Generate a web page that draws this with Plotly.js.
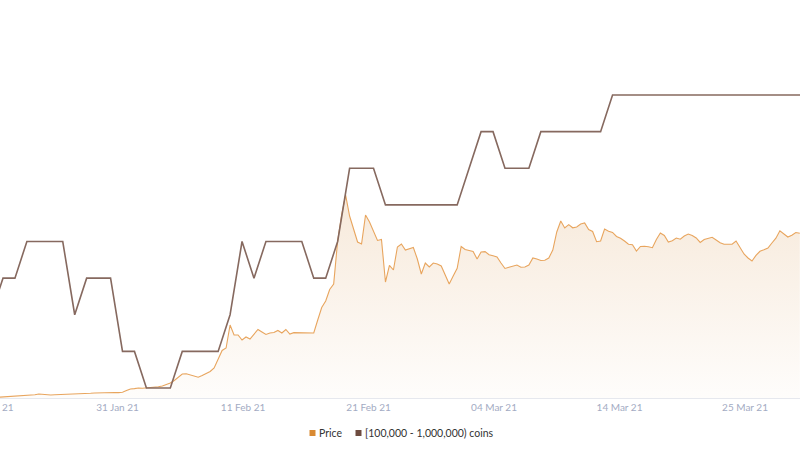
<!DOCTYPE html>
<html><head><meta charset="utf-8">
<script src="https://cdn.plot.ly/plotly-3.0.1.min.js"></script>
<style>html,body{margin:0;padding:0;background:#fff}#chart{width:800px;height:450px}</style>
</head><body><div id="chart"></div>
<script>
// ---- data ----
const seriesNames = ['Price', '[100,000 - 1,000,000) coins'];

// Price, sampled every 8 hours starting at priceStart (USD)
const priceStart = '2021-01-21T16:00:00Z';
const priceStepHours = 8;
const priceValues = [
  37.2, 37.5, 38.3, 39, 39, 39, 38.8, 39.8, 40.1, 40.8,
  42, 41.3, 40.5, 40.5, 40.8, 41, 41, 41, 41.1, 41.7,
  42.3, 42.6, 42.8, 43.1, 43.5, 43.8, 44.1, 44.4, 44.6, 44.3,
  44.1, 44.7, 47.3, 49.5, 50.1, 51, 50.6, 51, 51.5, 52.1,
  52.8, 54, 56.3, 58.5, 62.3, 66.8, 72, 72.3, 70.5, 69.8,
  67.2, 69.8, 72.8, 75.8, 81, 94.5, 107.3, 111, 145.5, 130.5,
  130.5, 123, 127.5, 124.5, 132, 138.8, 135, 131.3, 133.5, 134.3,
  137.3, 133.5, 138.8, 132, 134, 134, 133.5, 133.1, 133.1, 133.5,
  153, 171.8, 181.5, 198.8, 207, 271.5, 310.5, 340.5, 309, 291,
  270, 267, 310.5, 300, 287.3, 272.3, 273.8, 210, 235, 228,
  262.5, 267, 258, 259.5, 261.8, 244.5, 222, 238.5, 232.5, 238.5,
  237, 234, 220.5, 207, 219, 230.6, 263.3, 258.8, 257.3, 255.8,
  244.5, 255, 255.5, 250.8, 249.3, 247.5, 238.5, 230.3, 232.1, 234,
  235.5, 232.1, 232.5, 235.5, 246, 244.5, 242.3, 242.6, 246, 258,
  285, 301.5, 291, 296, 291.3, 292.5, 297, 298.5, 288.8, 285.8,
  270.5, 271.5, 289.5, 286.2, 284.3, 278.3, 275.6, 271.5, 266.6, 266,
  256.5, 263.3, 263.7, 262.8, 261.5, 273.8, 283.5, 279.8, 270, 272,
  276, 274.2, 279, 282, 279.8, 276, 269.3, 273.8, 276, 277.1,
  273, 269, 266.6, 266.7, 266.7, 271.5, 262.5, 252, 246, 241.5,
  249.8, 256.1, 258.3, 261, 268.5, 275.7, 286.8, 282.5, 277.5, 280.2,
  284.3, 283.1
];

// Number of holders in the band, daily from holderStart
const holderStart = '2021-01-21T00:00:00Z';
const holderValues = [
  22, 23, 23, 24, 24, 24, 24, 22, 23, 23, 23,
  21, 21, 20, 20, 20, 21, 21, 21, 21, 22, 24, 23, 24, 24, 24, 24, 23, 23, 24, 26, 26, 26, 25, 25, 25, 25, 25, 25,
  25, 26, 27, 27, 26, 26, 26, 27, 27, 27, 27, 27, 27,
  28, 28, 28, 28, 28, 28, 28, 28, 28, 28, 28, 28, 28, 28, 28, 28, 28
];

const xRange = ['2021-01-21 18:00', '2021-03-29 16:24'];
const tickDates = ['2021-01-31 14:00', '2021-02-11 02:00', '2021-02-21 14:00', '2021-03-04 02:00', '2021-03-14 14:00', '2021-03-25 02:00'];
const tickLabels = ['31 Jan 21', '11 Feb 21', '21 Feb 21', '04 Mar 21', '14 Mar 21', '25 Mar 21'];
const clippedTickLabel = '21 Jan 21';

// ---- build ----
function fmt(ms) { return new Date(ms).toISOString().slice(0, 16).replace('T', ' '); }
const p0 = Date.parse(priceStart);
const priceDates = priceValues.map((_, i) => fmt(p0 + i * priceStepHours * 3600e3));
const h0 = Date.parse(holderStart);
const holderDates = holderValues.map((_, i) => fmt(h0 + i * 24 * 3600e3));

const priceColor = '#e8a55e';
const holderColor = '#86695f';
const priceKey = '#d98a32';
const holderKey = '#6e4c40';
const font = 'Lato, "Open Sans", sans-serif';

const traces = [
  {
    x: priceDates, y: priceValues, type: 'scatter', mode: 'lines', name: seriesNames[0],
    line: {color: priceColor, width: 1.1},
    fill: 'tozeroy',
    fillgradient: {type: 'vertical', start: 36, stop: 345,
      colorscale: [[0, 'rgba(244,226,206,0.08)'], [1, 'rgba(244,226,206,0.75)']]},
    showlegend: false, hoverinfo: 'skip'
  },
  {
    x: holderDates, y: holderValues, type: 'scatter', mode: 'lines', name: seriesNames[1],
    yaxis: 'y2', line: {color: holderColor, width: 1.6},
    showlegend: false, hoverinfo: 'skip'
  }
];

const plotBottom = 398, plotH = 398;
const py = yp => -(yp - plotBottom) / plotH; // pixel -> paper y (below plot)

const layout = {
  width: 800, height: 450,
  margin: {l: 0, r: 0, t: 0, b: 52, pad: 0},
  paper_bgcolor: '#ffffff', plot_bgcolor: '#ffffff',
  showlegend: false,
  font: {family: font, size: 11, color: '#333'},
  xaxis: {
    type: 'date', range: xRange, tickmode: 'array', tickvals: tickDates, ticktext: tickLabels,
    showgrid: false, zeroline: false, showline: true, linecolor: '#e6e8ee', linewidth: 1,
    ticks: '', tickfont: {family: font, size: 10, color: '#a3abc3'}, fixedrange: true
  },
  yaxis: {range: [36, 633], visible: false, fixedrange: true},
  yaxis2: {range: [19.727, 30.594], overlaying: 'y', side: 'right', visible: false, fixedrange: true},
  shapes: [
    {type: 'rect', xref: 'paper', yref: 'paper', x0: 309.5/800, x1: 315.5/800, y0: py(436), y1: py(430), fillcolor: priceKey, line: {width: 0}},
    {type: 'rect', xref: 'paper', yref: 'paper', x0: 355.5/800, x1: 361.5/800, y0: py(436), y1: py(430), fillcolor: holderKey, line: {width: 0}}
  ],
  annotations: [
    {xref: 'paper', yref: 'paper', x: -8/800, y: py(407), xanchor: 'center', yanchor: 'middle', showarrow: false,
     text: clippedTickLabel, font: {family: font, size: 10, color: '#a3abc3'}},
    {xref: 'paper', yref: 'paper', x: 317/800, y: py(433), xanchor: 'left', yanchor: 'middle', showarrow: false,
     text: seriesNames[0], font: {family: font, size: 10.5, color: '#333'}},
    {xref: 'paper', yref: 'paper', x: 363/800, y: py(433), xanchor: 'left', yanchor: 'middle', showarrow: false,
     text: seriesNames[1], font: {family: font, size: 10.5, color: '#333'}}
  ]
};

Plotly.newPlot('chart', traces, layout, {displayModeBar: false, staticPlot: true});
</script>
</body></html>
